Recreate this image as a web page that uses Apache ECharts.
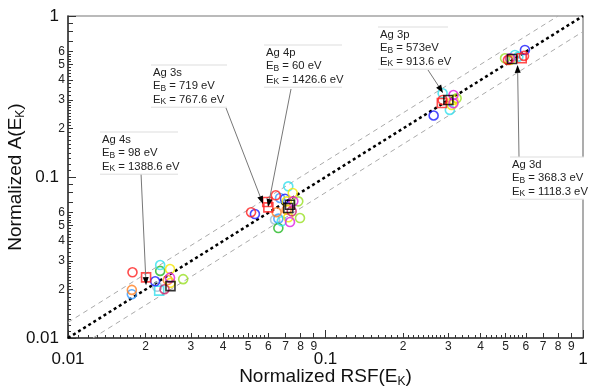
<!DOCTYPE html>
<html><head><meta charset="utf-8">
<script src="https://cdn.jsdelivr.net/npm/echarts@6/dist/echarts.min.js"></script>
<style>html,body{margin:0;padding:0;background:#fff}#c{width:594px;height:386px}</style>
</head><body><div id="c"></div><script>
// ---------- data (x = Normalized RSF, y = Normalized A) ----------
const redCircles   = [[0.0178,0.0256],[0.0514,0.0604],[0.0641,0.0770],[0.285,0.301],[0.590,0.565],[0.511,0.533]];
const redSquares   = [[0.0201,0.0238],[0.0594,0.0700],[0.0600,0.0648],[0.283,0.288],[0.578,0.546]];
const blueCircles  = [[0.0218,0.0225],[0.0532,0.0589],[0.0696,0.0733],[0.263,0.241],[0.595,0.615]];
const cyanCircles  = [[0.0228,0.0284],[0.0717,0.0875],[0.0676,0.0531],[0.285,0.331],[0.304,0.261],[0.544,0.573],[0.561,0.559]];
const cyanSquares  = [[0.0226,0.0197]];
const greenCircles = [[0.0228,0.0261],[0.0656,0.0482]];
const limeCircles  = [[0.0280,0.0232],[0.0784,0.0706],[0.0796,0.0556],[0.323,0.308],[0.498,0.546]];
const yellowCircles= [[0.0249,0.0268],[0.0250,0.0220],[0.0746,0.0796],[0.0717,0.0562],[0.0707,0.0706],[0.309,0.280],[0.314,0.301],[0.521,0.533]];
const magentaCircles=[[0.0249,0.0237],[0.0750,0.0706],[0.0728,0.0525],[0.314,0.323],[0.314,0.287],[0.521,0.546]];
const orangeCircles= [[0.0177,0.0199],[0.0244,0.0229],[0.0646,0.0604],[0.0707,0.0627]];
const skyCircles   = [[0.0177,0.0187],[0.0666,0.0741],[0.0656,0.0551]];
const greyCircles  = [[0.0222,0.0208],[0.0637,0.0543]];
const crimsonCircles=[[0.0237,0.0201],[0.0739,0.0612]];
const blackSquares = [[0.0250,0.0210],[0.0717,0.0642],[0.0728,0.0673],[0.300,0.301],[0.530,0.541]];

// reference lines y = x and y = x*1.25, y = x/1.25
const lineIdentity = [[0.01,0.01],[1,1]];
const lineUpper    = [[0.01,0.0125],[0.8,1]];
const lineLower    = [[0.0125,0.01],[1,0.8]];

// ticks and tick labels
const decades        = [0.01, 0.1, 1];
const decadeLabels   = ['0.01', '0.1', '1'];
const xMinorLabelVals= [0.02,0.03,0.04,0.05,0.06,0.07,0.08,0.09,0.2,0.3,0.4,0.5,0.6,0.7,0.8,0.9];
const yMinorLabelVals= [0.02,0.03,0.04,0.05,0.06,0.2,0.3,0.4,0.5,0.6];
const minorTickVals  = [0.02,0.03,0.04,0.05,0.06,0.07,0.08,0.09,0.2,0.3,0.4,0.5,0.6,0.7,0.8,0.9];
const subMantissas   = [1.1,1.2,1.3,1.4,1.5,1.6,1.7,1.8,1.9,2.1,2.2,2.3,2.4,2.5,2.6,2.7,2.8,2.9,3.2,3.4,3.6,3.8,4.2,4.4,4.6,4.8,5.2,5.4,5.6,5.8];
const subTickVals = [];
[0.01,0.1].forEach(d => subMantissas.forEach(m => subTickVals.push(+(m*d).toPrecision(6))));

// annotations: text, box placement, arrow start (px) and arrow tip (data)
const annotations = [
  {name:'Ag 4s', eb:'98 eV',    ek:'1388.6 eV', left:102, top:133, width:78, from:[141,173], tip:[0.0201,0.0213]},
  {name:'Ag 3s', eb:'719 eV',   ek:'767.6 eV',  left:153, top:66,  width:76, from:[226,108], tip:[0.0572,0.0680]},
  {name:'Ag 4p', eb:'60 eV',    ek:'1426.6 eV', left:266, top:46,  width:78, from:[291,89],  tip:[0.0598,0.0651]},
  {name:'Ag 3p', eb:'573eV',    ek:'913.6 eV',  left:380, top:28,  width:70, from:[428,70],  tip:[0.286,0.333]},
  {name:'Ag 3d', eb:'368.3 eV', ek:'1118.3 eV', left:512, top:158, width:74, from:[519,157], tip:[0.557,0.497]}
];

// ---------- chart ----------
const FONT = 'Liberation Sans, Arial, sans-serif';
const chart = echarts.init(document.getElementById('c'), null, {renderer:'canvas'});

function fmtLabel(v){
  const e = Math.floor(Math.log10(v) + 1e-9);
  const m = v / Math.pow(10, e);
  if (Math.abs(m - 1) < 1e-6) {
    const i = decades.findIndex(d => Math.abs(d - v) / d < 1e-6);
    return '{d|' + decadeLabels[i] + '}';
  }
  return '{m|' + Math.round(m) + '}';
}

function baseAxis(extra){
  return Object.assign({
    type:'log', logBase:10, min:0.01, max:1, gridIndex:0,
    splitLine:{show:false}, minorTick:{show:false}, minorSplitLine:{show:false},
    axisLine:{show:false}, axisLabel:{show:false}, axisTick:{show:false}
  }, extra);
}
const tickStyle = {color:'#333', width:1};

const xAxes = [
  baseAxis({position:'bottom',
    axisLine:{show:true, lineStyle:{color:'#333', width:1.5}},
    axisTick:{show:true, inside:true, length:8, customValues:decades, lineStyle:tickStyle},
    axisLabel:{show:true, customValues:decades.concat(xMinorLabelVals), formatter:fmtLabel, margin:3,
      rich:{m:{fontSize:12, color:'#222', fontFamily:FONT}, d:{fontSize:17, color:'#111', fontFamily:FONT, padding:[10,0,0,0]}}},
    name:'Normalized RSF(E{s|K})', nameLocation:'middle', nameGap:28, nameMoveOverlap:false,
    nameTextStyle:{fontSize:19, color:'#111', fontFamily:FONT, lineHeight:22,
      rich:{s:{fontSize:12, color:'#111', fontFamily:FONT, lineHeight:6, verticalAlign:'bottom'}}}
  }),
  baseAxis({position:'bottom', axisTick:{show:true, inside:true, length:5, customValues:minorTickVals, lineStyle:tickStyle}}),
  baseAxis({position:'bottom', axisTick:{show:true, inside:true, length:3, customValues:subTickVals, lineStyle:tickStyle}})
];
const yAxes = [
  baseAxis({position:'left',
    axisLine:{show:true, lineStyle:{color:'#333', width:1.5}},
    axisTick:{show:true, inside:true, length:8, customValues:decades, lineStyle:tickStyle},
    axisLabel:{show:true, customValues:decades.concat(yMinorLabelVals), formatter:fmtLabel, margin:3,
      rich:{m:{fontSize:12, color:'#222', fontFamily:FONT}, d:{fontSize:17, color:'#111', fontFamily:FONT, padding:[0,6,0,0]}}},
    name:'Normalized A(E{s|K})', nameLocation:'middle', nameGap:41, nameMoveOverlap:false,
    nameTextStyle:{fontSize:19, color:'#111', fontFamily:FONT, lineHeight:22,
      rich:{s:{fontSize:12, color:'#111', fontFamily:FONT, lineHeight:6, verticalAlign:'bottom'}}}
  }),
  baseAxis({position:'left', axisTick:{show:true, inside:true, length:5, customValues:minorTickVals, lineStyle:tickStyle}}),
  baseAxis({position:'left', axisTick:{show:true, inside:true, length:3, customValues:subTickVals, lineStyle:tickStyle}})
];

function refLine(data, color, width, dash, z){
  return {type:'line', data:data, symbol:'none', silent:true, z:z, animation:false,
    lineStyle:{color:color, width:width, type:dash}};
}
function pts(data, color, symbol){
  return {type:'scatter', data:data, symbol:symbol || 'circle', symbolSize:9, z:5, animation:false,
    itemStyle:{color:'rgba(0,0,0,0)', borderColor:color, borderWidth:1.6}};
}

chart.setOption({
  backgroundColor:'#fff',
  animation:false,
  grid:{left:68, right:11, top:16, bottom:48, show:true, borderColor:'#777', borderWidth:1.2, outerBoundsMode:'none'},
  xAxis:xAxes, yAxis:yAxes,
  series:[
    refLine(lineUpper, '#aaa', 1, [5,4], 2),
    refLine(lineLower, '#aaa', 1, [5,4], 2),
    refLine(lineIdentity, '#000', 2.5, [3,3], 3),
    pts(greyCircles, '#9fbfd0'),
    pts(skyCircles, '#3399ff'),
    pts(greenCircles, '#22b822'),
    pts(limeCircles, '#99e022'),
    pts(orangeCircles, '#ff8022'),
    pts(cyanCircles, '#33e0ee'),
    pts(cyanSquares, '#33e0ee', 'rect'),
    pts(blueCircles, '#1a1aff'),
    pts(yellowCircles, '#f5e600'),
    pts(crimsonCircles, '#cc2266'),
    pts(magentaCircles, '#e020e0'),
    pts(redCircles, '#ff2020'),
    pts(redSquares, '#ff2020', 'rect'),
    pts(blackSquares, '#000', 'rect')
  ]
});

// annotations built after layout so arrow tips follow the data scale
const g = [];
annotations.forEach(a => {
  const txt = '{n|' + a.name + '}\n{n|E}{s|B}{n| = ' + a.eb + '}\n{n|E}{s|K}{n| = ' + a.ek + '}';
  const h = 3 * 13.4 + 2;
  g.push({type:'rect', shape:{x:a.left-2, y:a.top-1, width:a.width, height:h}, style:{fill:'#fff', stroke:null}, z:20});
  g.push({type:'line', shape:{x1:a.left-2, y1:a.top-1, x2:a.left-2+a.width, y2:a.top-1}, style:{stroke:'#ddd', lineWidth:1}, z:21});
  g.push({type:'line', shape:{x1:a.left-2, y1:a.top-1+h, x2:a.left-2+a.width, y2:a.top-1+h}, style:{stroke:'#ddd', lineWidth:1}, z:21});
  g.push({type:'text', x:a.left, y:a.top, z:22, style:{text:txt, verticalAlign:'top', align:'left',
    rich:{n:{fontSize:11.3, fontFamily:FONT, fill:'#222', lineHeight:13.4},
          s:{fontSize:8.5, fontFamily:FONT, fill:'#222', lineHeight:4, verticalAlign:'bottom'}}}});
  const tip = chart.convertToPixel({gridIndex:0}, a.tip);
  const dx = tip[0]-a.from[0], dy = tip[1]-a.from[1], L = Math.hypot(dx,dy);
  const ux = dx/L, uy = dy/L, bx = tip[0]-ux*8, by = tip[1]-uy*8, nx = -uy, ny = ux;
  g.push({type:'line', shape:{x1:a.from[0], y1:a.from[1], x2:bx, y2:by}, style:{stroke:'#777', lineWidth:1}, z:19});
  g.push({type:'polygon', shape:{points:[[tip[0],tip[1]],[bx+nx*3,by+ny*3],[bx-nx*3,by-ny*3]]}, style:{fill:'#000'}, z:19});
});
chart.setOption({graphic:g});
</script></body></html>
